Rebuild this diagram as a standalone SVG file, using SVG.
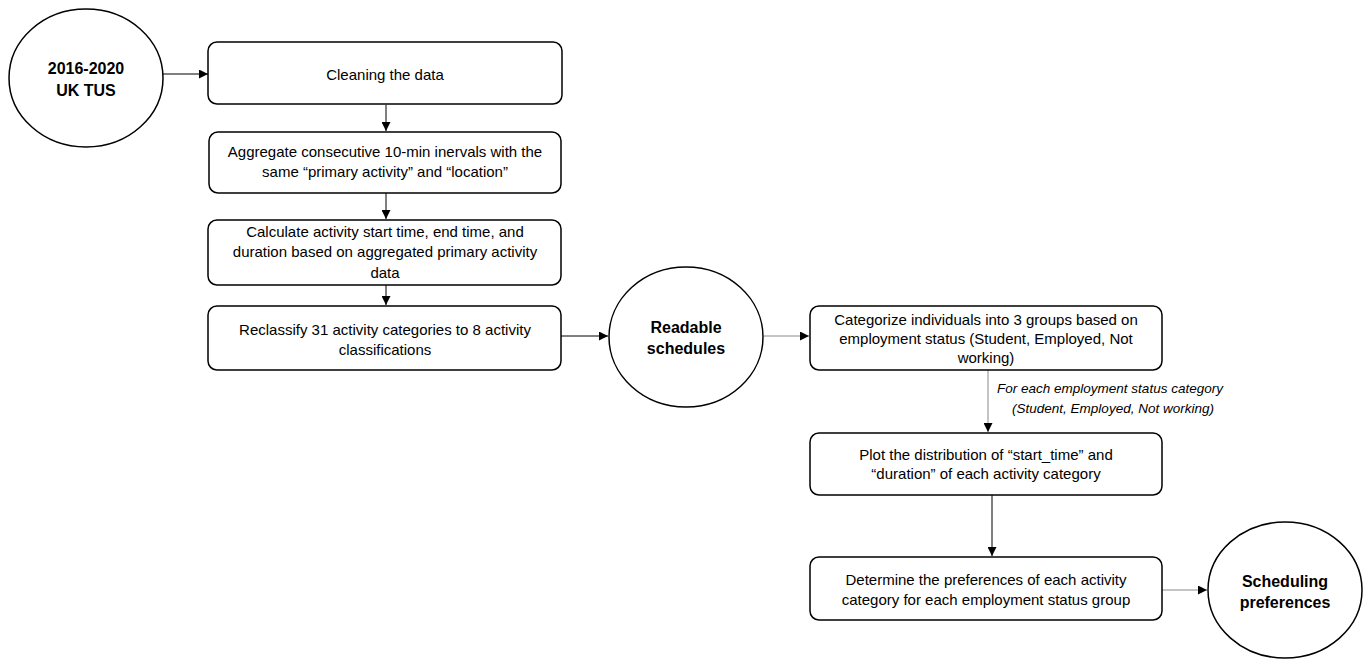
<svg xmlns="http://www.w3.org/2000/svg" width="1366" height="660" viewBox="0 0 1366 660">
<style>
.box{fill:#fff;stroke:#000;stroke-width:1.5}
.circ{fill:#fff;stroke:#000;stroke-width:1.5}
.t{font-family:"Liberation Sans",Arial,sans-serif;font-size:15px;fill:#000;text-anchor:middle}
.b{font-family:"Liberation Sans",Arial,sans-serif;font-size:16px;font-weight:bold;fill:#000;text-anchor:middle}
.i{font-family:"Liberation Sans",Arial,sans-serif;font-size:13.5px;font-style:italic;fill:#000;text-anchor:middle}
.c{stroke:#000;stroke-width:1;fill:none;marker-end:url(#ah)}
.g{stroke:#8a8a8a}
</style>
<defs>
<marker id="ah" viewBox="0 0 10 10" refX="10" refY="5" markerWidth="9" markerHeight="9" markerUnits="userSpaceOnUse" orient="auto">
<path d="M0,0 L10,5 L0,10 z" fill="#000"/>
</marker>
</defs>
<rect width="1366" height="660" fill="#fff"/>
<g id="connectors">
<line class="c" x1="163" y1="74" x2="208" y2="74"/>
<line class="c" x1="386" y1="105" x2="386" y2="131"/>
<line class="c" x1="386" y1="193" x2="386" y2="219"/>
<line class="c" x1="386" y1="285" x2="386" y2="305"/>
<line class="c" x1="561" y1="336" x2="608" y2="336"/>
<line class="c g" x1="764" y1="336" x2="809" y2="336"/>
<line class="c g" x1="988" y1="370" x2="988" y2="432"/>
<line class="c" x1="992" y1="495" x2="992" y2="556"/>
<line class="c g" x1="1162" y1="590" x2="1207" y2="590"/>
<text class="i" x="1110" y="393">For each employment status category</text>
<text class="i" x="1113" y="413">(Student, Employed, Not working)</text>
</g>
<g id="n_tus">
<ellipse class="circ" cx="86" cy="78" rx="77" ry="69"/>
<text class="b" x="86" y="74">2016-2020</text>
<text class="b" x="86" y="96">UK TUS</text>
</g>
<g id="n_clean">
<rect class="box" x="208" y="42" width="354" height="62" rx="9"/>
<text class="t" x="385" y="80">Cleaning the data</text>
</g>
<g id="n_aggregate">
<rect class="box" x="209" y="132" width="352" height="61" rx="9"/>
<text class="t" x="385" y="157">Aggregate consecutive 10-min inervals with the</text>
<text class="t" x="385" y="177">same “primary activity” and “location”</text>
</g>
<g id="n_calc">
<rect class="box" x="208" y="220" width="353" height="65" rx="9"/>
<text class="t" x="385" y="237">Calculate activity start time, end time, and</text>
<text class="t" x="385" y="257">duration based on aggregated primary activity</text>
<text class="t" x="385" y="278">data</text>
</g>
<g id="n_reclass">
<rect class="box" x="208" y="306" width="353" height="64" rx="9"/>
<text class="t" x="385" y="335">Reclassify 31 activity categories to 8 activity</text>
<text class="t" x="385" y="355">classifications</text>
</g>
<g id="n_readable">
<ellipse class="circ" cx="686" cy="337" rx="77" ry="70"/>
<text class="b" x="686" y="333">Readable</text>
<text class="b" x="686" y="354">schedules</text>
</g>
<g id="n_categorize">
<rect class="box" x="810" y="306" width="352" height="64" rx="9"/>
<text class="t" x="986" y="325">Categorize individuals into 3 groups based on</text>
<text class="t" x="986" y="344">employment status (Student, Employed, Not</text>
<text class="t" x="986" y="363">working)</text>
</g>
<g id="n_plot">
<rect class="box" x="810" y="433" width="352" height="62" rx="9"/>
<text class="t" x="986" y="460">Plot the distribution of “start_time” and</text>
<text class="t" x="986" y="479">“duration” of each activity category</text>
</g>
<g id="n_determine">
<rect class="box" x="810" y="557" width="352" height="63" rx="9"/>
<text class="t" x="986" y="585">Determine the preferences of each activity</text>
<text class="t" x="986" y="605">category for each employment status group</text>
</g>
<g id="n_prefs">
<ellipse class="circ" cx="1285" cy="590" rx="77" ry="68"/>
<text class="b" x="1285" y="587">Scheduling</text>
<text class="b" x="1285" y="608">preferences</text>
</g>
</svg>
